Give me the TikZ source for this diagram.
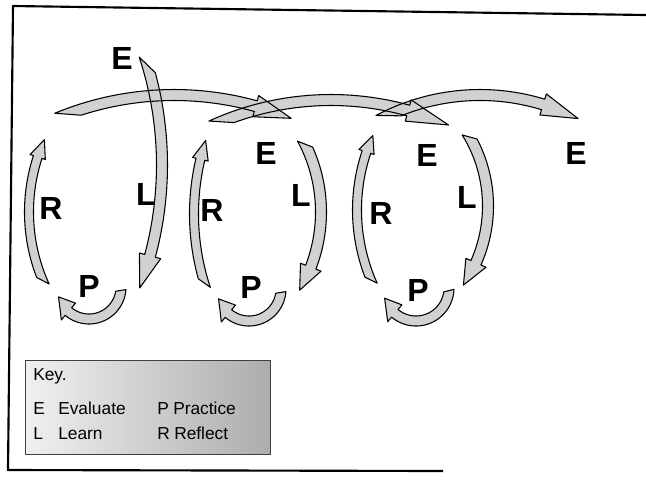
\documentclass[tikz,border=0pt]{standalone}
\usepackage{fontspec}
\setmainfont{Liberation Sans}
\definecolor{stip}{gray}{0.82}
% curved block arrow: cx, cy, r, tail angle (outer edge), tail angle (inner edge), head base angle, tip angle, half width, head half width
\newcommand\carrow[9]{%
  \path[arrowpass] plot[domain=#4:#6,samples=40] ({#1+(#3+#8)*cos(\x)},{#2+(#3+#8)*sin(\x)})
   -- ({#1+(#3+#9)*cos(#6)},{#2+(#3+#9)*sin(#6)})
   -- ({#1+#3*cos(#7)},{#2+#3*sin(#7)})
   -- ({#1+(#3-#9)*cos(#6)},{#2+(#3-#9)*sin(#6)})
   -- plot[domain=#6:#5,samples=40] ({#1+(#3-#8)*cos(\x)},{#2+(#3-#8)*sin(\x)})
   -- cycle;}
\newcommand\allarrows{%
  % top arcs E -> E
  \carrow{174}{401}{306}{-112.5}{-108}{-74.5}{-67.5}{5.5}{11}%
  \carrow{331}{389}{289}{-114.5}{-110}{-74.5}{-66}{5.5}{11}%
  \carrow{480}{311}{216}{-118}{-112}{-73}{-63}{5.5}{11}%
  % loop 1
  \carrow{-189}{165}{351}{-15}{-18.2}{15}{20.5}{5.5}{11}%
  \carrow{207}{212}{178}{159}{155.5}{198}{204}{4.5}{8}%
  \carrow{89}{287}{32}{4}{9}{130}{162}{5}{11}%
  % loop 2
  \carrow{167}{212}{154}{-24}{-28.5}{21}{30.5}{5.5}{11}%
  \carrow{432}{214}{238}{164.5}{161.7}{193.3}{198}{4.5}{8}%
  \carrow{249}{289}{32}{4}{9}{130}{162}{5}{11}%
  % loop 3
  \carrow{348.4}{206}{139.6}{-27.5}{-32}{24}{34.5}{5.5}{11}%
  \carrow{540}{210}{183}{159}{155.8}{198.5}{204}{4.5}{8}%
  \carrow{416}{288}{33}{2}{8}{130}{162}{5}{11}%
}
\begin{document}
\begin{tikzpicture}[x=0.75pt,y=-0.75pt,line join=round]
\useasboundingbox (0,0) rectangle (646,487);
\tikzset{
  lbl/.style={font=\fontsize{24}{24}\selectfont\bfseries, inner sep=0pt},
  keytxt/.style={font=\fontsize{13}{13}\selectfont, inner sep=0pt, anchor=base west},
  keybox/.style={draw=black!75, line width=0.5pt, left color=black!6, right color=black!32, inner sep=0pt},
  frameline/.style={line width=1.6pt},
}
% frame
\draw[frameline] (646,15) -- (13,6) -- (8,470) -- (443,471);
% arrows: fills then outlines
\tikzset{arrowpass/.style={fill=stip}}
\allarrows
\tikzset{arrowpass/.style={draw=black,line width=0.8pt}}
\allarrows
% labels
\node[lbl] (e1) at (122,58) {E};
\node[lbl] (l1) at (146,194) {L};
\node[lbl] (r1) at (51,208) {R};
\node[lbl] (p1) at (89,286) {P};
\node[lbl] (e2) at (266,153) {E};
\node[lbl] (l2) at (301,195) {L};
\node[lbl] (r2) at (212,210) {R};
\node[lbl] (p2) at (251,287) {P};
\node[lbl] (e3) at (427,155) {E};
\node[lbl] (l3) at (467,197) {L};
\node[lbl] (r3) at (381,213) {R};
\node[lbl] (p3) at (418,290) {P};
\node[lbl] (e4) at (576,153) {E};
% key
\node[keybox, anchor=north west, minimum width=183.5pt, minimum height=70.5pt] (key) at (25,360) {};
\node[keytxt] (keyh) at (33,380) {Key.};
\node[keytxt] (ke) at (33,414) {E};
\node[keytxt] (kev) at (58,414) {Evaluate};
\node[keytxt] (kp) at (157,414) {P};
\node[keytxt] (kpr) at (173,414) {Practice};
\node[keytxt] (kl) at (33,439) {L};
\node[keytxt] (kle) at (58,439) {Learn};
\node[keytxt] (kr) at (157,439) {R};
\node[keytxt] (kre) at (174,439) {Reflect};
\end{tikzpicture}
\end{document}
